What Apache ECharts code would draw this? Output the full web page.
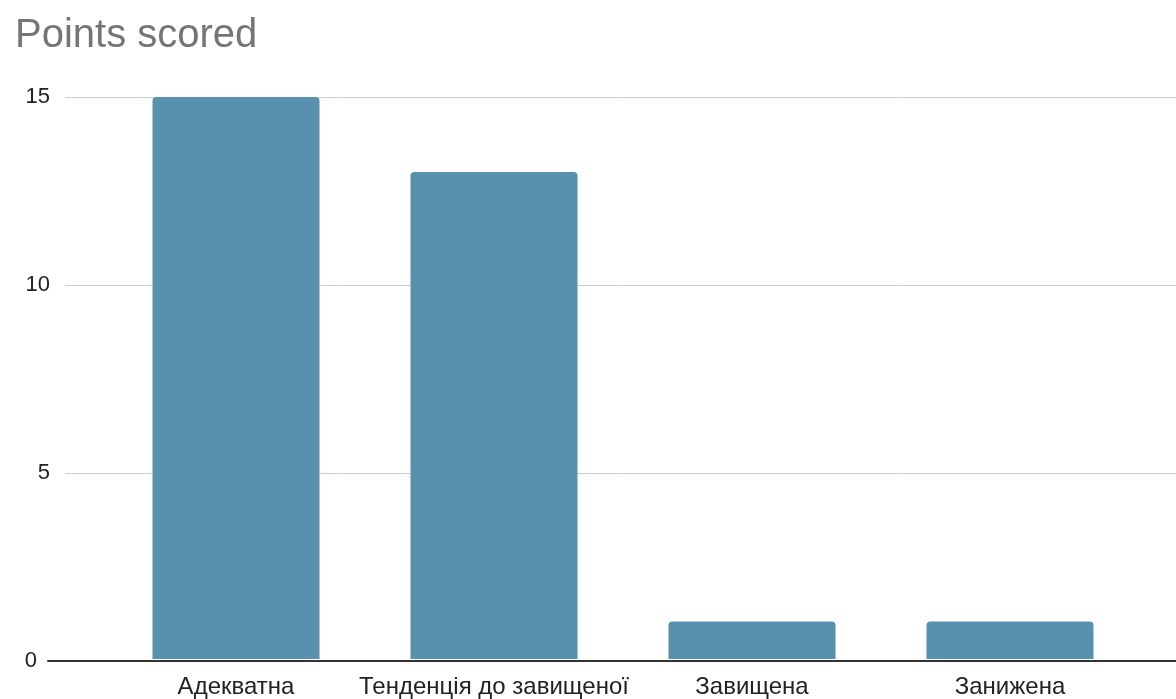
<!DOCTYPE html>
<html><head><meta charset="utf-8">
<script src="https://cdn.jsdelivr.net/npm/echarts@6/dist/echarts.min.js"></script>
<style>html,body{margin:0;padding:0;background:#fff}#c{width:1176px;height:699px}</style>
</head><body><div id="c"></div>
<script>
const categories = ["Адекватна", "Тенденція до завищеної", "Завищена", "Занижена"];
const pointsScored = [15, 13, 1, 1];
const yTicks = [0, 5, 10, 15];

const chart = echarts.init(document.getElementById('c'), null, {renderer: 'canvas'});
const font = "'Liberation Sans', Arial, sans-serif";
chart.setOption({
  animation: false,
  title: {
    text: 'Points scored', left: 10, top: 11,
    textStyle: {fontFamily: font, fontSize: 40, fontWeight: 'normal', color: '#757575'}
  },
  grid: [
    {left: 65, right: 0, top: 97, bottom: 38},
    {left: 107, right: 37, top: 97, bottom: 38},
    {left: 48, right: 0, top: 97, bottom: 38}
  ],
  xAxis: [
    {gridIndex: 0, type: 'value', min: 0, max: 1, show: false},
    {gridIndex: 1, type: 'category', data: categories,
     axisLine: {show: false}, axisTick: {show: false},
     axisLabel: {fontFamily: font, fontSize: 24, color: '#222', margin: 16, interval: 0}},
    {gridIndex: 2, type: 'value', min: 0, max: 1,
     axisLine: {show: true, lineStyle: {color: '#333', width: 2}},
     axisTick: {show: false}, axisLabel: {show: false}, splitLine: {show: false}}
  ],
  yAxis: [
    {gridIndex: 0, type: 'value', min: yTicks[0], max: yTicks[yTicks.length - 1], interval: 5,
     axisLine: {show: false}, axisTick: {show: false},
     axisLabel: {fontFamily: font, fontSize: 22, color: '#222', margin: 15,
       formatter: v => v === 0 ? '{z|0}' : String(v),
       rich: {z: {fontFamily: font, fontSize: 22, color: '#222', padding: [0, 13, 0, 0]}}},
     splitLine: {lineStyle: {color: '#cccccc', width: 1}}},
    {gridIndex: 1, type: 'value', min: 0, max: 15, show: false, splitLine: {show: false}},
    {gridIndex: 2, type: 'value', min: 0, max: 15, show: false, splitLine: {show: false}}
  ],
  series: [{
    type: 'bar', xAxisIndex: 1, yAxisIndex: 1, data: pointsScored,
    barWidth: 167, z: 1,
    itemStyle: {color: '#5891ad', borderRadius: [4, 4, 0, 0]}
  }]
});
</script></body></html>
